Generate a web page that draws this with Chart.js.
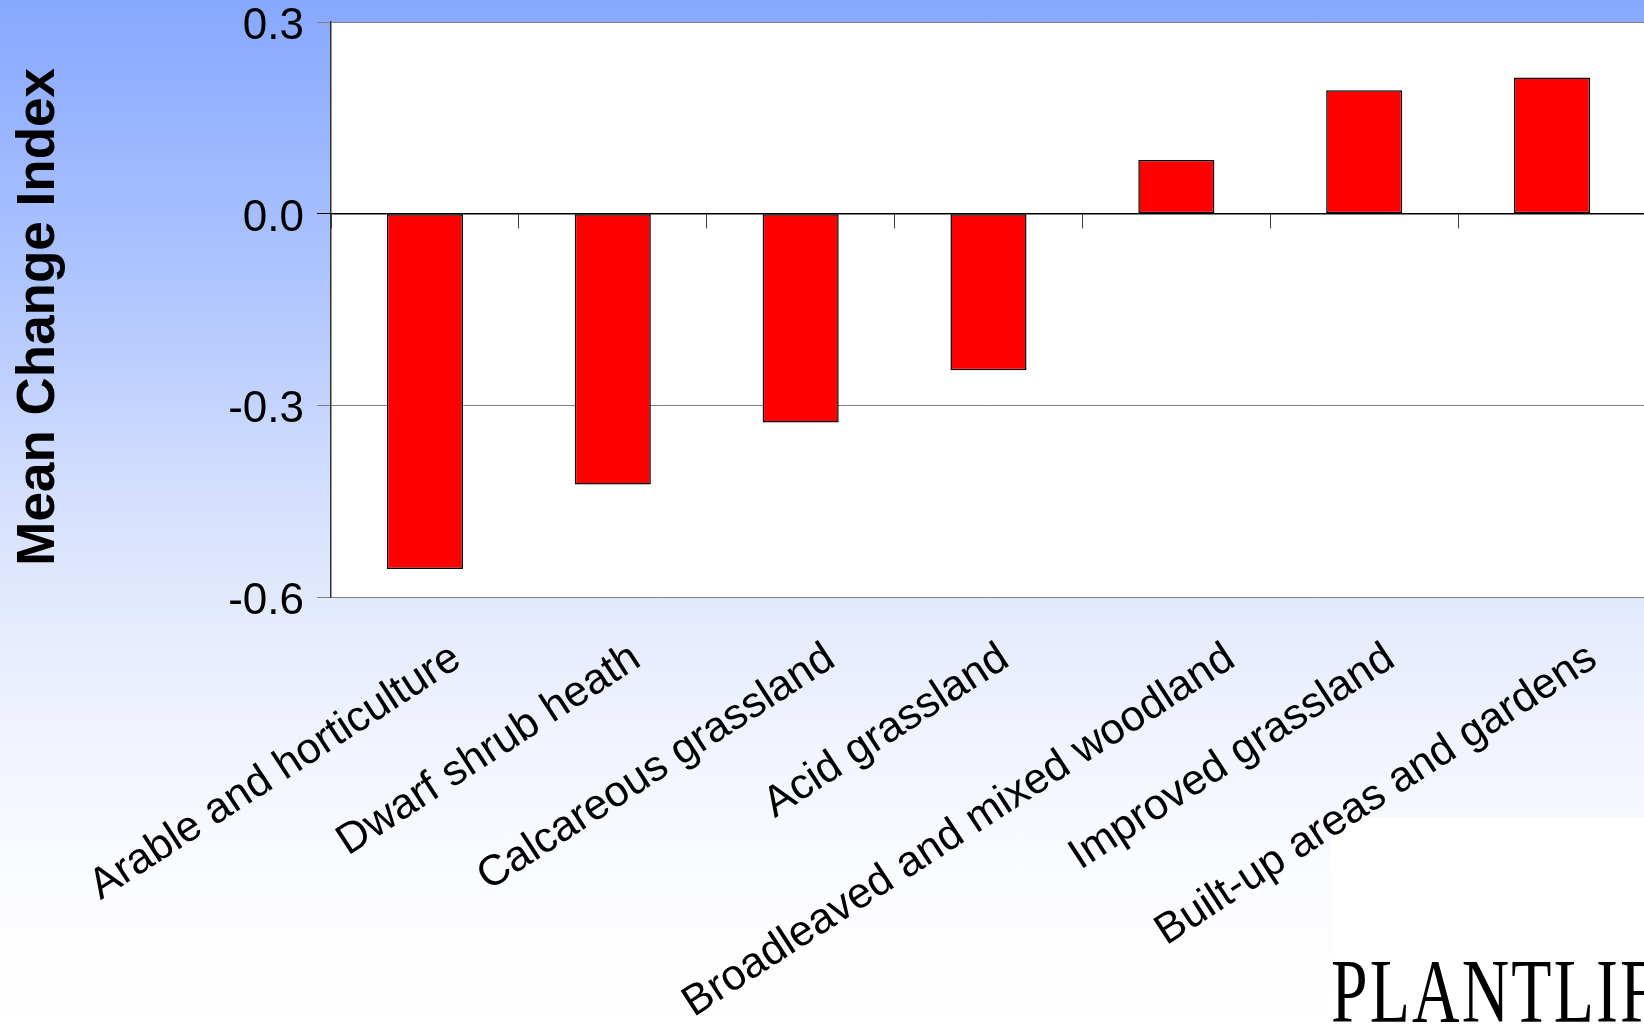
<!DOCTYPE html>
<html>
<head>
<meta charset="utf-8">
<title>Mean Change Index by habitat</title>
<script src="https://cdn.jsdelivr.net/npm/chart.js@4.4.0/dist/chart.umd.min.js"></script>
<style>
    html, body { margin: 0; padding: 0; width: 1644px; height: 1027px; overflow: hidden; }
    body {
        position: relative;
        background: linear-gradient(to bottom, #86a8ff 0%, #9db8ff 15%, #b6cafe 32%, #d2defd 47%, #e2e9fd 58%, #f1f4fe 72%, #fbfcff 86%, #ffffff 100%);
    }
    #chart { position: absolute; left: 0; top: 0; z-index: 1; }
    #logo {
        position: absolute; left: 1331px; top: 817px; width: 313px; height: 210px;
        background: #fff; overflow: hidden; z-index: 0;
    }
    #logo span {
        position: absolute; left: 0; top: 130px; white-space: nowrap;
        font-family: "Liberation Serif", "DejaVu Serif", serif; font-size: 90px; line-height: 1;
        color: #000; transform: scaleX(0.73); transform-origin: left top; letter-spacing: 3px;
    }
</style>
</head>
<body>
<canvas id="chart" width="1660" height="1027"></canvas>
<div id="logo"><span>PLANTLIFE</span></div>
<script>
    // habitats, left to right
    const categories = [
        "Arable and horticulture",
        "Dwarf shrub heath",
        "Calcareous grassland",
        "Acid grassland",
        "Broadleaved and mixed woodland",
        "Improved grassland",
        "Built-up areas and gardens"
    ];
    const changeIndex = [-0.556, -0.424, -0.327, -0.245, 0.084, 0.193, 0.213];
    const yTicks = [-0.6, -0.3, 0.0, 0.3];

    const FONT = "'Liberation Sans', Arial, sans-serif";
    const LABEL_SIZE = 43;

    // longer category labels sit a little further right of their tick
    const measureCtx = document.createElement("canvas").getContext("2d");
    measureCtx.font = LABEL_SIZE + "px " + FONT;
    const labelWidths = categories.map(c => measureCtx.measureText(c).width);
    const labelShift = i => 0.104 * labelWidths[i] - 13;

    // white plot background, drawn under the bars
    const plotBackground = {
        id: "plotBackground",
        beforeDraw(chart) {
            const { ctx, chartArea } = chart;
            ctx.save();
            ctx.fillStyle = "#ffffff";
            ctx.fillRect(chartArea.left, chartArea.top, chartArea.right - chartArea.left, chartArea.bottom - chartArea.top);
            ctx.restore();
        }
    };

    new Chart(document.getElementById("chart"), {
        type: "bar",
        data: {
            labels: categories,
            datasets: [{
                data: changeIndex,
                backgroundColor: "#ff0000",
                borderColor: "#000000",
                borderWidth: 1.5,
                borderSkipped: false,
                barPercentage: 0.405,
                categoryPercentage: 1.0
            }]
        },
        options: {
            responsive: false,
            animation: false,
            layout: { padding: { top: 22, right: 14, bottom: 0, left: 0 } },
            plugins: {
                legend: { display: false },
                tooltip: { enabled: false }
            },
            scales: {
                x: {
                    grid: { display: false, drawTicks: false },
                    border: { display: false },
                    ticks: {
                        color: "#000",
                        font: { family: FONT, size: LABEL_SIZE },
                        minRotation: 33,
                        maxRotation: 33,
                        autoSkip: false,
                        padding: 36
                    },
                    afterFit(scale) {
                        // long rotated labels may run past the plot edge
                        scale.height = 430;
                        scale.paddingLeft = 0;
                        scale.paddingRight = 0;
                    },
                    afterUpdate(scale) {
                        // nudge each label sideways by its own amount
                        if (scale._labelShiftWrapped || typeof scale._computeLabelItems !== "function") return;
                        const compute = scale._computeLabelItems;
                        scale._computeLabelItems = function (area) {
                            const items = compute.call(this, area);
                            items.forEach((item, i) => {
                                if (item.options && item.options.translation) {
                                    item.options.translation[0] += labelShift(i);
                                }
                            });
                            return items;
                        };
                        scale._labelShiftWrapped = true;
                    }
                },
                // axis line across zero with the category tick marks
                x2: {
                    type: "category",
                    position: { y: 0 },
                    offset: true,
                    grid: {
                        display: true,
                        offset: true,
                        drawOnChartArea: false,
                        drawTicks: true,
                        tickLength: 14,
                        color: "#404040"
                    },
                    border: { display: true, color: "#000", width: 1.5 },
                    ticks: { display: false },
                    afterFit(scale) {
                        scale.paddingLeft = 0;
                        scale.paddingRight = 0;
                    }
                },
                y: {
                    min: -0.6,
                    max: 0.3,
                    afterBuildTicks(scale) {
                        scale.ticks = yTicks.map(v => ({ value: v }));
                    },
                    grid: {
                        color: "#808080",
                        lineWidth: 1,
                        tickLength: 14,
                        tickColor: ctx => (ctx.tick && ctx.tick.value === 0 ? "#000" : "#808080")
                    },
                    border: { display: true, color: "#303030", width: 1.5 },
                    ticks: {
                        color: "#000",
                        font: { family: FONT, size: 44 },
                        padding: 13,
                        labelOffset: 5,
                        callback: v => Number(v).toFixed(1)
                    },
                    title: {
                        display: true,
                        text: "Mean Change Index ",
                        color: "#000",
                        font: { family: FONT, size: 53, weight: "bold" },
                        padding: { top: 8, bottom: 0 }
                    },
                    afterFit(scale) {
                        scale.width = 331;
                        scale.paddingTop = 0;
                        scale.paddingBottom = 0;
                    }
                }
            }
        },
        plugins: [plotBackground]
    });
</script>
</body>
</html>
